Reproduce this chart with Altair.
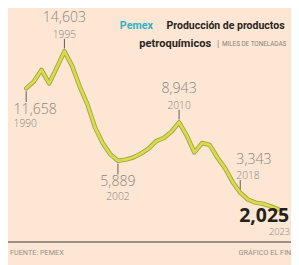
import altair as alt
import pandas as pd

# ---- data ----
years = list(range(1990, 2024))
production = [11658, 12200, 13130, 12050, 13300, 14603, 13450, 11800, 10400, 8550,
              7300, 6400, 5889, 5980, 6150, 6450, 6850, 7450, 7700, 8200,
              8943, 7900, 6550, 7300, 7150, 6150, 5300, 4200, 3343, 2800,
              2550, 2450, 2250, 2025]
label_years = [1990, 1995, 2002, 2010, 2018]
final_year = 2023

title_brand = "Pemex"
title_line1 = "Producción de productos"
title_line2 = "petroquímicos"
title_sep = "|"
title_units = "MILES DE TONELADAS"
source_text = "FUENTE: PEMEX"
credit_text = "GRÁFICO EL FINANCIERO"

df = pd.DataFrame({"year": years, "value": production})

# ---- styles ----
W, H = 291, 257
BG = "#fde6d3"
LABEL_FONT = "Open Sans"
TITLE_FONT = "Roboto"
GRAY = "#8c8580"

xs = alt.X("year:Q", scale=alt.Scale(domain=[1987.62, 2024.64], nice=False, zero=False), axis=None)
ys = alt.Y("value:Q", scale=alt.Scale(domain=[-2137, 17780], nice=False, zero=False), axis=None)

# placement per annotated year: (side, align, dx)
placement = {
    1990: ("below", "left", -13),
    1995: ("above", "center", 0),
    2002: ("below", "center", 0),
    2010: ("above", "center", 0),
    2018: ("above", "left", -4),
}

layers = []
for yr in label_years:
    side, align, dx = placement[yr]
    base = alt.Chart(df).transform_filter(alt.datum.year == yr)
    if side == "above":
        t0, t1, dv, dy_yr = -3, -13, -34, -17
    else:
        t0, t1, dv, dy_yr = 3, 14, 22, 37
    layers.append(base.mark_rule(color="#5e5853", strokeWidth=1, yOffset=t0, y2Offset=t1)
                  .encode(x=xs, y=ys, y2=alt.Y2("value:Q")))
    layers.append(base.mark_text(align=align, dx=dx, dy=dv, fontSize=14.5, font=LABEL_FONT,
                                 fontWeight=300, color=GRAY)
                  .encode(x=xs, y=ys, text=alt.Text("value:Q", format=",")))
    layers.append(base.mark_text(align=align, dx=dx, dy=dy_yr, fontSize=10.5, font=LABEL_FONT,
                                 fontWeight=300, color=GRAY)
                  .encode(x=xs, y=ys, text=alt.Text("year:Q", format="d")))

line_outer = alt.Chart(df).mark_line(color="#a6a23e", strokeWidth=4.6, strokeJoin="round",
                                     strokeCap="round").encode(x=xs, y=ys)
line_inner = alt.Chart(df).mark_line(color="#d8dc4e", strokeWidth=2.8, strokeJoin="round",
                                     strokeCap="round").encode(x=xs, y=ys)

fin = alt.Chart(df).transform_filter(alt.datum.year == final_year)
final_val = fin.mark_text(align="right", dx=11, dy=7, fontSize=20, fontWeight="bold",
                          font=LABEL_FONT, color="#231f1c").encode(
    x=xs, y=ys, text=alt.Text("value:Q", format=","))
final_yr = fin.mark_text(align="right", dx=12, dy=23.5, fontSize=9.5, font=LABEL_FONT,
                         fontWeight=300, color=GRAY).encode(
    x=xs, y=ys, text=alt.Text("year:Q", format="d"))


def fixed_text(txt, px, py, **kw):
    return alt.Chart(pd.DataFrame({"t": [txt]})).mark_text(baseline="middle", **kw).encode(
        x=alt.value(px), y=alt.value(py), text="t:N")


title_layers = [
    fixed_text(title_brand, 115, 15, align="left", font=TITLE_FONT, fontSize=11,
               fontWeight="bold", color="#2fb2c9"),
    fixed_text(title_line1, 163, 15, align="left", font=TITLE_FONT, fontSize=10.8,
               fontWeight="bold", color="#2a2522"),
    fixed_text(title_line2, 135, 33, align="left", font=TITLE_FONT, fontSize=11.4,
               fontWeight="bold", color="#2a2522"),
    fixed_text(title_sep, 215, 33, align="left", font=TITLE_FONT, fontSize=10,
               color="#9a918a"),
    fixed_text(title_units, 220, 33, align="left", font=TITLE_FONT, fontSize=6.5,
               color="#8a817a"),
    fixed_text(source_text, 2, 248.5, align="left", font=TITLE_FONT, fontSize=7.5,
               color="#9a8f86"),
    fixed_text(credit_text, 237, 248.5, align="left", font=TITLE_FONT, fontSize=7.5,
               color="#9a8f86"),
]

base_rule = alt.Chart(pd.DataFrame({"t": [0]})).mark_rule(color="#7b726b", strokeWidth=1.5).encode(
    x=alt.value(0), x2=alt.value(W), y=alt.value(237))

chart = alt.layer(
    *layers, line_outer, line_inner, final_val, final_yr, base_rule, *title_layers
).properties(
    width=W, height=H, padding=0,
    autosize=alt.AutoSizeParams(type="none"),
    background=BG,
).configure_view(stroke="transparent")

chart.save("out.html", embed_options={"renderer": "svg", "actions": False})
